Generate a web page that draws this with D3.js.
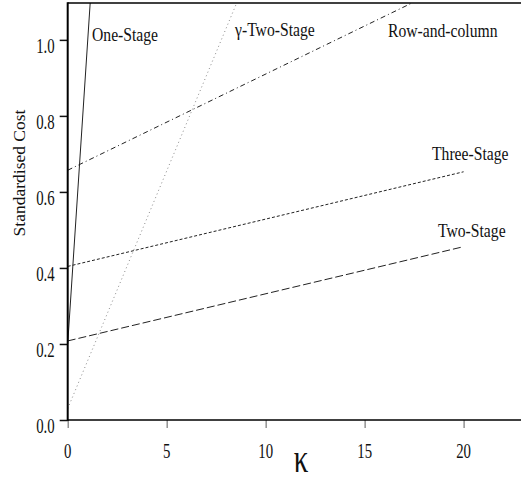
<!DOCTYPE html>
<html><head><meta charset="utf-8">
<script src="https://cdn.jsdelivr.net/npm/d3@7/dist/d3.min.js"></script>
<style>body{margin:0;background:#fff}svg{display:block}</style>
</head><body>
<script>
// Data
const kappa = [0, 20];
const oneStage = [0.20, 16.0];
const gammaTwoStage = [0.03, 2.53];
const rowAndColumn = [0.657, 1.163];
const threeStage = [0.404, 0.653];
const twoStage = [0.208, 0.456];
const xTicks = [0, 5, 10, 15, 20];
const yTicks = [0.0, 0.2, 0.4, 0.6, 0.8, 1.0];
const seriesNames = ["One-Stage", "γ-Two-Stage", "Row-and-column", "Three-Stage", "Two-Stage"];

const W = 521, H = 481;
const m = {left: 67.7, right: 0, top: 3, bottom: 61};
const svg = d3.select("body").append("svg").attr("width", W).attr("height", H);
const x = d3.scaleLinear().domain([0, 22.9]).range([m.left, W - m.right]);
const y = d3.scaleLinear().domain([0, 1.097]).range([H - m.bottom, m.top]);

svg.append("clipPath").attr("id", "clip").append("rect")
  .attr("x", x(0)).attr("y", y(1.097)).attr("width", x(22.9) - x(0)).attr("height", y(0) - y(1.097));

const series = [
  {name: seriesNames[0], vals: oneStage, dash: null, color: "#222", w: 1},
  {name: seriesNames[1], vals: gammaTwoStage, dash: "1,3", color: "#888", w: 1},
  {name: seriesNames[2], vals: rowAndColumn, dash: "5,3,1,3", color: "#222", w: 1},
  {name: seriesNames[3], vals: threeStage, dash: "3,2", color: "#222", w: 1},
  {name: seriesNames[4], vals: twoStage, dash: "8,3", color: "#222", w: 1}
];
const line = d3.line().x(d => x(d[0])).y(d => y(d[1]));
const g = svg.append("g").attr("clip-path", "url(#clip)");
series.forEach(s => {
  g.append("path").datum(kappa.map((k, i) => [k, s.vals[i]]))
    .attr("d", line).attr("fill", "none").attr("stroke", s.color)
    .attr("stroke-width", s.w).attr("stroke-dasharray", s.dash);
});

// Axes
const font = "Liberation Serif, Tinos, Times New Roman, DejaVu Serif, serif";
const xAxis = svg.append("g").attr("transform", `translate(0,${y(0)})`)
  .call(d3.axisBottom(x).tickValues(xTicks).tickSize(8).tickFormat(""));
xAxis.select(".domain").remove();
xAxis.selectAll(".tick line").attr("stroke", "#777").attr("stroke-width", 1.2);
const yAxis = svg.append("g").attr("transform", `translate(${x(0)},0)`)
  .call(d3.axisLeft(y).tickValues(yTicks).tickSize(8).tickFormat(""));
yAxis.select(".domain").remove();
yAxis.selectAll(".tick line").attr("stroke", "#111").attr("stroke-width", 1.5);

// frame lines
svg.append("line").attr("x1", x(0)).attr("x2", W).attr("y1", y(0)).attr("y2", y(0))
  .attr("stroke", "#000").attr("stroke-width", 1.6);
svg.append("line").attr("x1", x(0)).attr("x2", W).attr("y1", y(1.097)).attr("y2", y(1.097))
  .attr("stroke", "#000").attr("stroke-width", 1.6);
svg.append("line").attr("x1", x(0)).attr("x2", x(0)).attr("y1", y(1.097) - 0.8).attr("y2", y(0) + 0.8)
  .attr("stroke", "#000").attr("stroke-width", 2);

function txt(px, py, s, size, sx, anchor, sy) {
  svg.append("text").attr("transform", `translate(${px},${py}) scale(${sx},${sy || 1})`)
    .style("font-family", font).attr("font-size", size).attr("fill", "#111")
    .attr("text-anchor", anchor || "start").text(s);
}
xTicks.forEach(t => txt(x(t), y(0) + 38, String(t), 20, 0.74, "middle"));
yTicks.forEach(t => txt(x(0) - 13, y(t) + 13, t.toFixed(1), 20, 0.74, "end"));

// axis titles
svg.append("text").attr("transform", `translate(25,173) rotate(-90)`)
  .style("font-family", font).attr("font-size", 17.5).attr("fill", "#111")
  .attr("text-anchor", "middle").text("Standardised Cost");
txt(301, 472, "κ", 34, 0.85, "middle", 1.15);

// series labels
txt(92, 41, seriesNames[0], 18, 0.87);
txt(235, 36, seriesNames[1], 18, 0.87);
txt(388, 37, seriesNames[2], 18, 0.87);
txt(432, 160, seriesNames[3], 18, 0.87);
txt(438, 237, seriesNames[4], 18, 0.87);
</script>
</body></html>
